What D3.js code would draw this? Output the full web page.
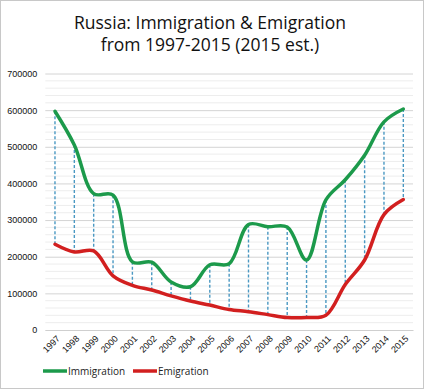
<!DOCTYPE html>
<html>
<head>
<meta charset="utf-8">
<script src="https://cdn.jsdelivr.net/npm/d3@7"></script>
<style>
  html, body { margin: 0; padding: 0; background: #fff; }
  svg { display: block; font-family: "Open Sans", "Noto Sans", sans-serif; }
</style>
</head>
<body>
<div id="chart"></div>
<script>
// chart data
const years = ['1997', '1998', '1999', '2000', '2001', '2002', '2003', '2004', '2005', '2006',
  '2007', '2008', '2009', '2010', '2011', '2012', '2013', '2014', '2015'];
const immigration = [597000, 505000, 372000, 368000, 186000, 185000, 131000, 118000, 178000, 181000,
  288000, 282000, 281000, 191000, 355000, 410000, 477000, 568000, 603000];
const emigration = [234000, 213000, 216000, 148000, 122000, 109000, 93000, 79000, 68000, 56000,
  50000, 42000, 34000, 34000, 40000, 124000, 191000, 315000, 356000];
const yTicks = [0, 100000, 200000, 300000, 400000, 500000, 600000, 700000];
const titleLines = ['Russia: Immigration & Emigration', 'from 1997-2015 (2015 est.)'];

const width = 425, height = 390;
const plot = { left: 45.3, right: 413, top: 73.5, bottom: 330 };

const svg = d3.select('#chart').append('svg')
  .attr('width', width)
  .attr('height', height);

// outer frame
svg.append('rect')
  .attr('x', 0.5).attr('y', 0.5)
  .attr('width', width - 2).attr('height', height - 2)
  .attr('fill', '#fff')
  .attr('stroke', '#c8c8c8');

const x = d3.scalePoint()
  .domain(years)
  .range([plot.left, plot.right])
  .padding(0.5);

const y = d3.scaleLinear()
  .domain([0, 700000])
  .range([plot.bottom, plot.top]);

// minor gridlines every 20000
const minor = d3.range(0, 700001, 20000).filter(v => v % 100000 !== 0);
svg.append('g').selectAll('line')
  .data(minor)
  .enter().append('line')
  .attr('x1', plot.left).attr('x2', plot.right)
  .attr('y1', d => y(d)).attr('y2', d => y(d))
  .attr('stroke', '#ededed')
  .attr('stroke-width', 1);

// major gridlines + y labels via axis
const yAxis = svg.append('g')
  .attr('transform', `translate(${plot.left},0)`)
  .call(d3.axisLeft(y).tickValues(yTicks).tickSize(-(plot.right - plot.left)).tickFormat(d3.format('d')));
yAxis.select('.domain').remove();
yAxis.selectAll('.tick line').attr('stroke', '#d4d4d4').attr('stroke-width', 1);
yAxis.selectAll('.tick text')
  .attr('x', -8)
  .attr('fill', '#111')
  .style('font-size', '9px');

// x labels
const xAxis = svg.append('g')
  .attr('transform', `translate(0,${plot.bottom})`)
  .call(d3.axisBottom(x).tickSize(0));
xAxis.select('.domain').attr('stroke', '#cfcfcf');
xAxis.selectAll('.tick text')
  .attr('fill', '#111')
  .style('font-size', '9px')
  .attr('text-anchor', 'end')
  .attr('dy', 0)
  .attr('transform', 'translate(3,7) rotate(-45)');

// drop lines between the two series
svg.append('g').selectAll('line')
  .data(years)
  .enter().append('line')
  .attr('x1', d => x(d)).attr('x2', d => x(d))
  .attr('y1', (d, i) => y(immigration[i]))
  .attr('y2', (d, i) => y(emigration[i]))
  .attr('stroke', '#4a98c2')
  .attr('stroke-width', 1.4)
  .attr('stroke-dasharray', '3,2');

const line = d3.line()
  .x((d, i) => x(years[i]))
  .y(d => y(d))
  .curve(d3.curveCatmullRom.alpha(0.5));

svg.append('path')
  .datum(emigration)
  .attr('d', line)
  .attr('fill', 'none')
  .attr('stroke', '#d21f1f')
  .attr('stroke-width', 3.5)
  .attr('stroke-linecap', 'round');

svg.append('path')
  .datum(immigration)
  .attr('d', line)
  .attr('fill', 'none')
  .attr('stroke', '#1c9a4b')
  .attr('stroke-width', 3.5)
  .attr('stroke-linecap', 'round');

// title
svg.append('g').selectAll('text')
  .data(titleLines)
  .enter().append('text')
  .attr('x', 210)
  .attr('y', (d, i) => 29 + i * 22)
  .attr('text-anchor', 'middle')
  .attr('fill', '#111')
  .style('font-size', '17.5px')
  .text(d => d);

// legend
const legend = [
  { name: 'Immigration', color: '#1c9a4b', x: 43 },
  { name: 'Emigration', color: '#d21f1f', x: 133 }
];
const lg = svg.append('g').selectAll('g')
  .data(legend)
  .enter().append('g')
  .attr('transform', d => `translate(${d.x},371)`);
lg.append('line')
  .attr('x1', 0).attr('x2', 24)
  .attr('stroke', d => d.color)
  .attr('stroke-width', 3.5);
lg.append('text')
  .attr('x', 25)
  .attr('dy', '0.35em')
  .attr('fill', '#222')
  .style('font-size', '10px')
  .text(d => d.name);
</script>
</body>
</html>
